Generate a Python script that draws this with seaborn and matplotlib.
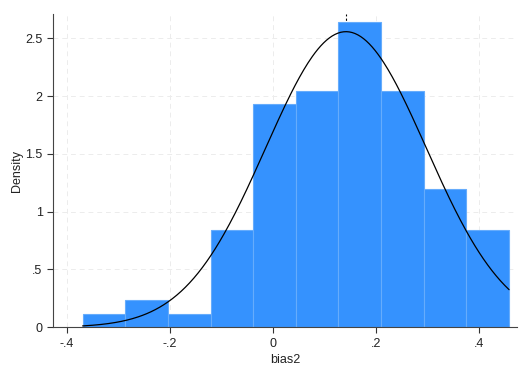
import numpy as np
import pandas as pd
import seaborn as sns
import matplotlib
matplotlib.use("Agg")
import matplotlib.pyplot as plt

# Histogram bins (density)
bin_edges = [-0.3695, -0.2867, -0.2039, -0.1210, -0.0382, 0.0446,
             0.1274, 0.2103, 0.2931, 0.3759, 0.4588]
densities = [0.115, 0.236, 0.115, 0.84, 1.93, 2.04, 2.64, 2.04, 1.20, 0.84]

# Fitted normal curve parameters
norm_mean = 0.142
norm_sd = 0.156

xtick_vals = [-0.4, -0.2, 0.0, 0.2, 0.4]
xtick_labels = ["-.4", "-.2", "0", ".2", ".4"]
ytick_vals = [0, 0.5, 1, 1.5, 2, 2.5]
ytick_labels = ["0", ".5", "1", "1.5", "2", "2.5"]

sns.set_theme(style="white")
plt.rcParams["font.family"] = ["Liberation Sans", "DejaVu Sans"]

fig = plt.figure(figsize=(5.28, 3.84), dpi=100)
ax = fig.add_axes([0.1004, 0.1477, 0.8786, 0.8158])

centers = [(bin_edges[i] + bin_edges[i + 1]) / 2 for i in range(len(densities))]
df = pd.DataFrame({"bias2": centers, "w": densities})

# grid
for yv in ytick_vals[1:]:
    ax.axhline(yv, color="#ececec", lw=0.7, ls=(0, (5, 4)), zorder=0)
for xv in xtick_vals:
    ax.axvline(xv, color="#ececec", lw=0.7, ls=(0, (5, 4)), zorder=0)

ax.axvline(norm_mean, color="black", lw=0.8, ls=(0, (2, 2)), zorder=0.5)

sns.histplot(data=df, x="bias2", weights="w", bins=bin_edges, stat="count",
             color="#3592fe", edgecolor="#66acfc", linewidth=0.8, alpha=1,
             ax=ax, zorder=2)

xs = np.linspace(bin_edges[0], bin_edges[-1], 300)
ys = np.exp(-0.5 * ((xs - norm_mean) / norm_sd) ** 2) / (norm_sd * np.sqrt(2 * np.pi))
sns.lineplot(x=xs, y=ys, color="black", lw=0.9, ax=ax, zorder=3)

ax.set_xlim(-0.427, 0.474)
ax.set_ylim(0, 2.71)
ax.set_xticks(xtick_vals)
ax.set_xticklabels(xtick_labels)
ax.set_yticks(ytick_vals)
ax.set_yticklabels(ytick_labels)
ax.tick_params(axis="both", which="both", direction="out", length=4, width=0.8,
               color="#333333", labelsize=9, bottom=True, left=True, labelcolor="#222222")
ax.set_xlabel("bias2", fontsize=9, color="#222222", labelpad=3)
ax.set_ylabel("Density", fontsize=9, color="#222222", labelpad=1.5)
for s in ["top", "right"]:
    ax.spines[s].set_visible(False)
for s in ["left", "bottom"]:
    ax.spines[s].set_color("#444444")
    ax.spines[s].set_linewidth(0.8)

fig.savefig("out.png", dpi=100)
